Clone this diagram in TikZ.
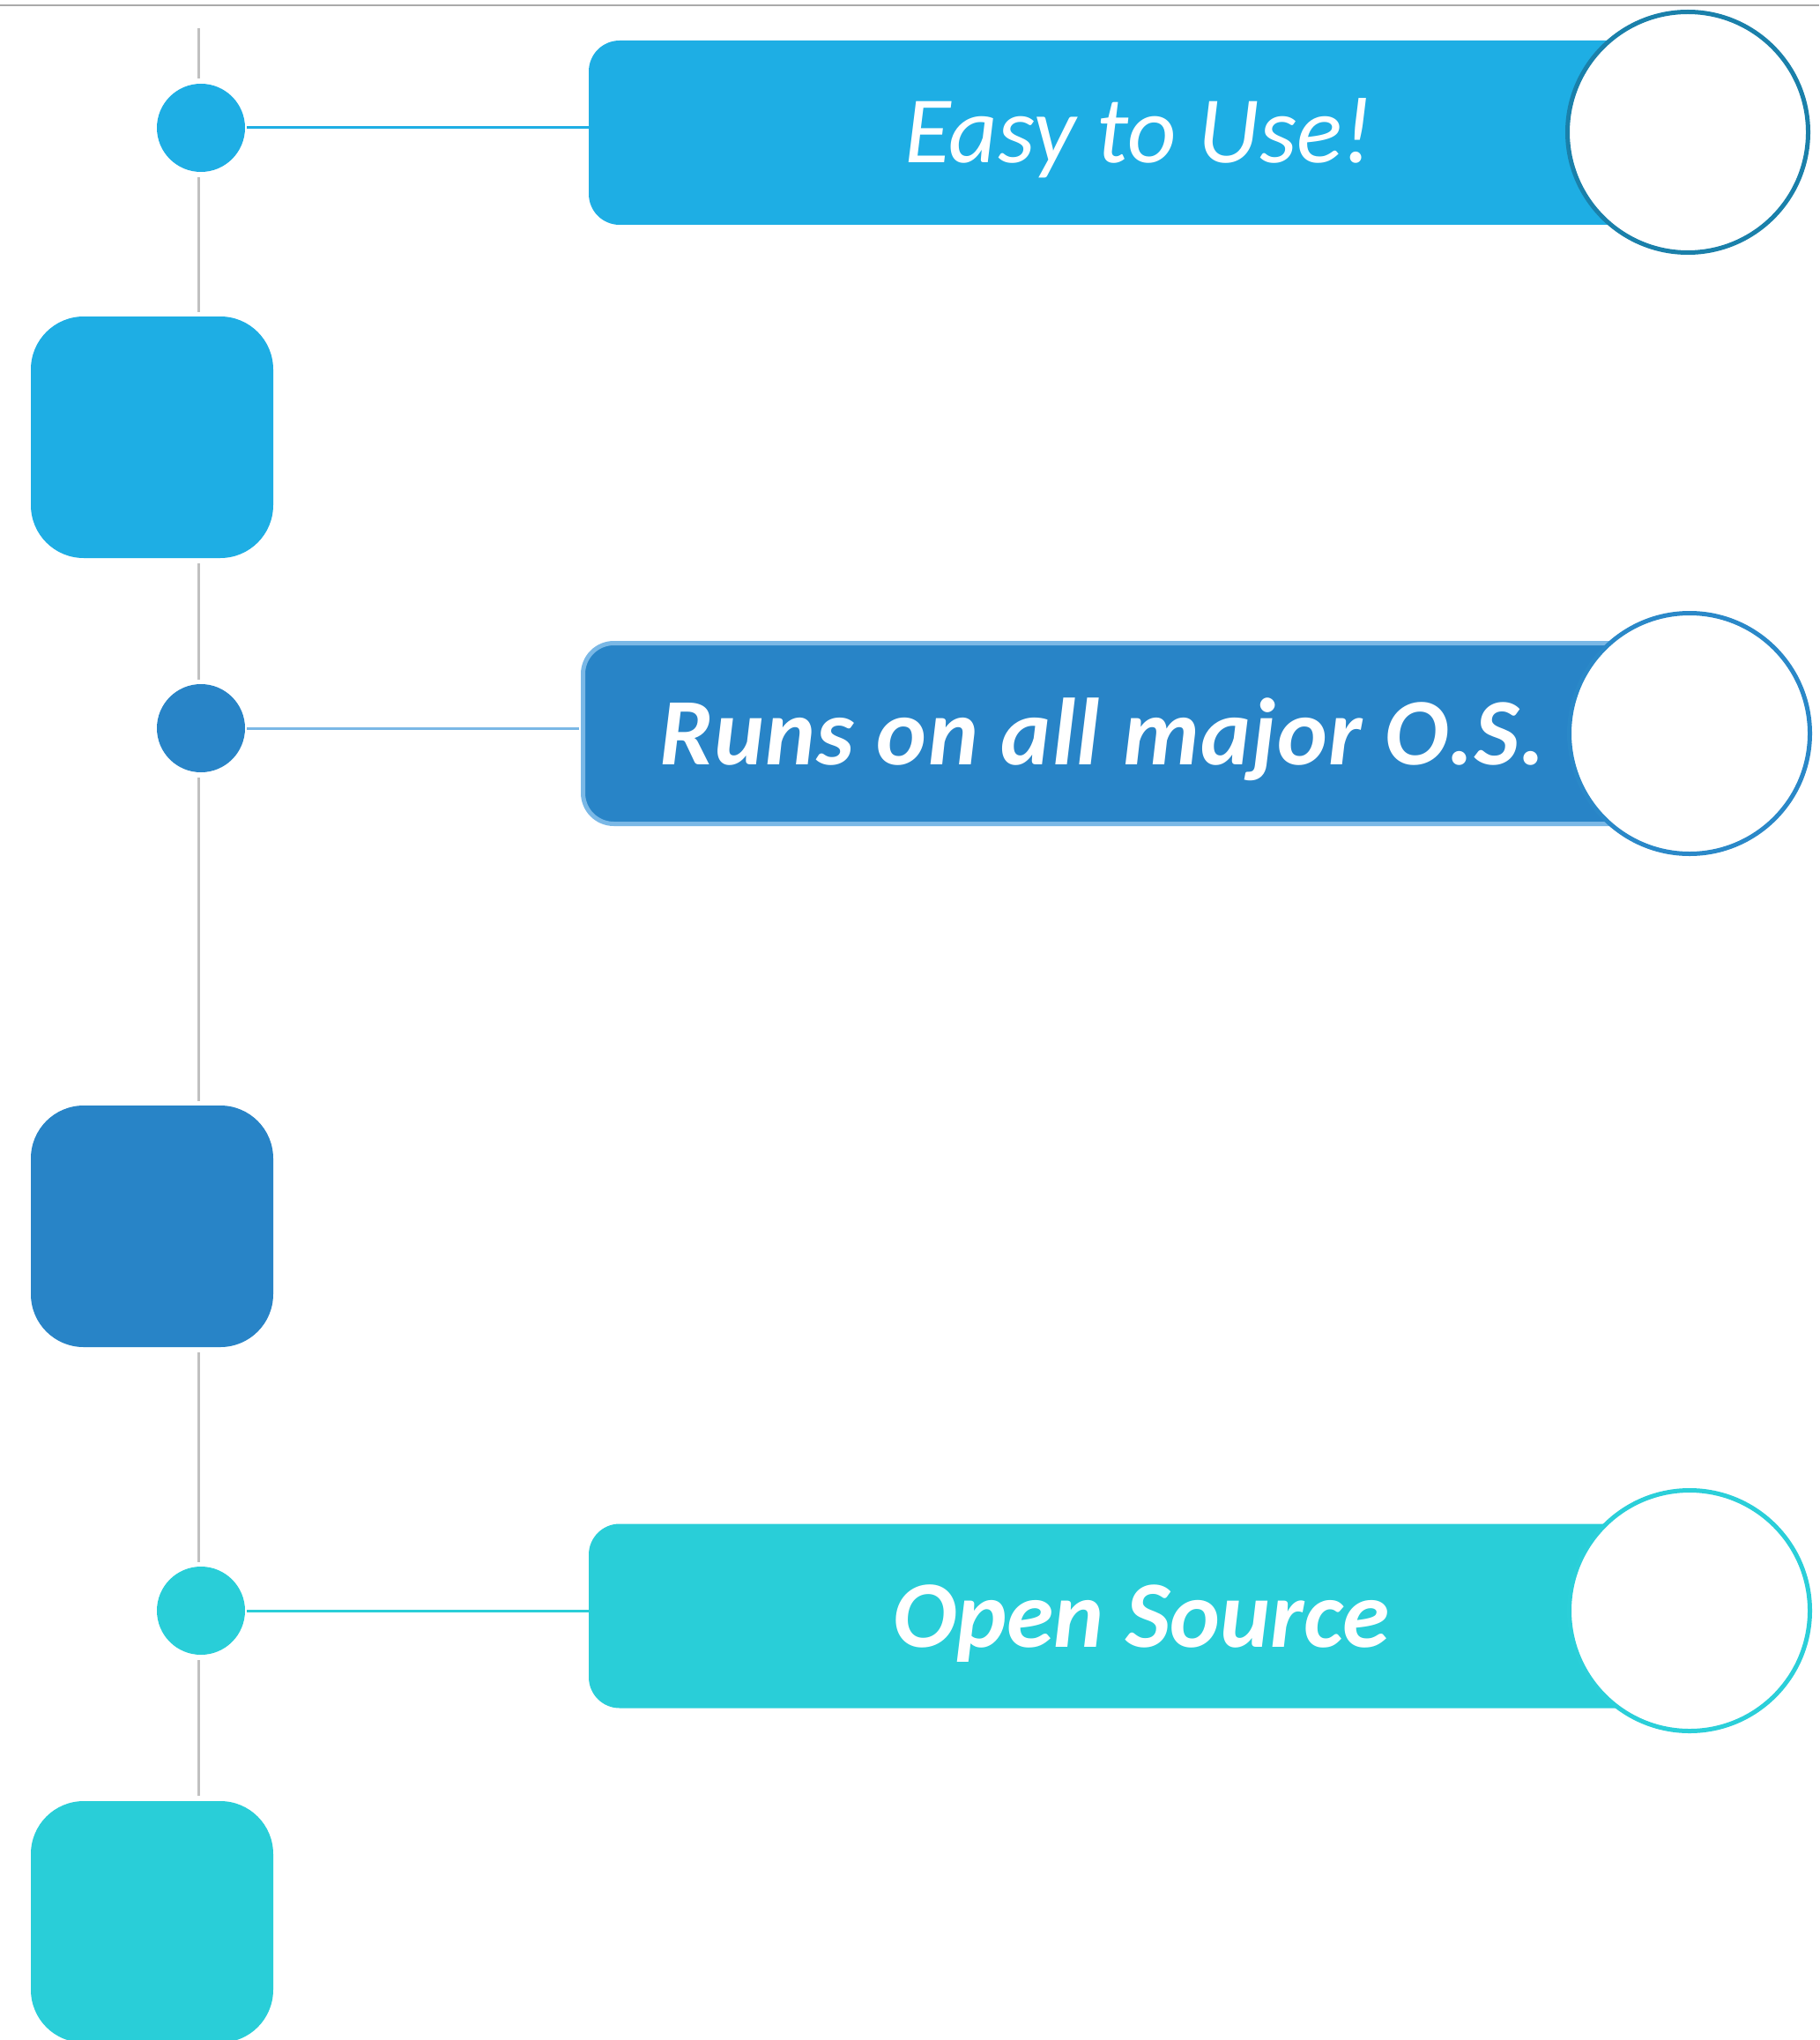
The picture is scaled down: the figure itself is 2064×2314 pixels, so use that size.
\documentclass[tikz,border=0pt]{standalone}
\usepackage{fontspec}
\setmainfont{Carlito}
\definecolor{cA}{HTML}{1EAEE4}
\definecolor{cAd}{HTML}{1A80AA}
\definecolor{cB}{HTML}{2884C7}
\definecolor{cBl}{HTML}{7AB8E6}
\definecolor{cBd}{HTML}{2A88C8}
\definecolor{cC}{HTML}{29CED8}
\definecolor{cCd}{HTML}{2BCFD9}
\definecolor{grayline}{HTML}{C0C0C0}
\definecolor{topline}{HTML}{AAAAAA}
\tikzset{
  dot/.style={circle, inner sep=0pt, minimum size=100pt, draw=none},
  sq/.style={rectangle, inner sep=0pt, minimum width=275pt, minimum height=274pt, rounded corners=60pt, draw=none},
  bar/.style={rectangle, inner sep=0pt, minimum width=1247pt, minimum height=209pt, rounded corners=35pt, draw=none},
  bigc/.style={circle, inner sep=0pt, minimum size=273pt, fill=white, line width=5pt},
  lab/.style={text=white, anchor=base, inner sep=0pt, font=\fontsize{108}{110}\selectfont\itshape},
  vline/.style={draw=grayline, line width=2.5pt},
  hline/.style={line width=3pt}
}
\begin{document}
\begin{tikzpicture}[x=1pt,y=-1pt]
\useasboundingbox (0,0) rectangle (2064,2314);
\coordinate (tl) at (0,6);
\coordinate (tr) at (2064,6);
\draw[draw=topline, line width=2.5pt] (tl) -- (tr);
\coordinate (vtop) at (225.7,32);

% section 1
\node[bar, fill=cA] (bar1) at (1291.5,150.5) {};
\node[bigc, draw=cAd] (big1) at (1915,150) {};
\node[lab] (t1) at (1292,185) {Easy to Use!};
\node[dot, fill=cA] (d1) at (228,145) {};
\node[sq, fill=cA] (s1) at (172.5,496) {};
\draw[hline, draw=cA] (d1.east) ++(2,0) -- (bar1.west |- d1.east);

% section 2
\node[bar, fill=cB, draw=cBl, line width=5pt, minimum width=1255pt, minimum height=205pt] (bar2) at (1289,832) {};
\node[bigc, draw=cBd] (big2) at (1917,832) {};
\node[lab, font=\fontsize{108}{110}\selectfont\bfseries\itshape\addfontfeature{LetterSpace=1.2}] (t2) at (1251,867) {Runs on all major O.S.};
\node[dot, fill=cB] (d2) at (228,826) {};
\node[sq, fill=cB] (s2) at (172.5,1391) {};
\draw[hline, draw=cBl] (d2.east) ++(2,0) -- ([xshift=-2.5pt]bar2.west |- d2.east);

% section 3
\node[bar, fill=cC] (bar3) at (1291.5,1833) {};
\node[bigc, draw=cCd] (big3) at (1917,1827) {};
\node[lab, font=\fontsize{108}{110}\selectfont\bfseries\itshape] (t3) at (1295,1868) {Open Source};
\node[dot, fill=cC] (d3) at (228,1827) {};
\node[sq, fill=cC] (s3) at (172.5,2180) {};
\draw[hline, draw=cC] (d3.east) ++(2,0) -- (bar3.west |- d3.east);

% vertical gray line segments
\draw[vline] (vtop) -- ([yshift=6pt]vtop |- d1.north);
\draw[vline] ([yshift=-6pt]vtop |- d1.south) -- ([yshift=5pt]vtop |- s1.north);
\draw[vline] ([yshift=-6pt]vtop |- s1.south) -- ([yshift=5pt]vtop |- d2.north);
\draw[vline] ([yshift=-6pt]vtop |- d2.south) -- ([yshift=5pt]vtop |- s2.north);
\draw[vline] ([yshift=-6pt]vtop |- s2.south) -- ([yshift=5pt]vtop |- d3.north);
\draw[vline] ([yshift=-6pt]vtop |- d3.south) -- ([yshift=6pt]vtop |- s3.north);
\end{tikzpicture}
\end{document}
